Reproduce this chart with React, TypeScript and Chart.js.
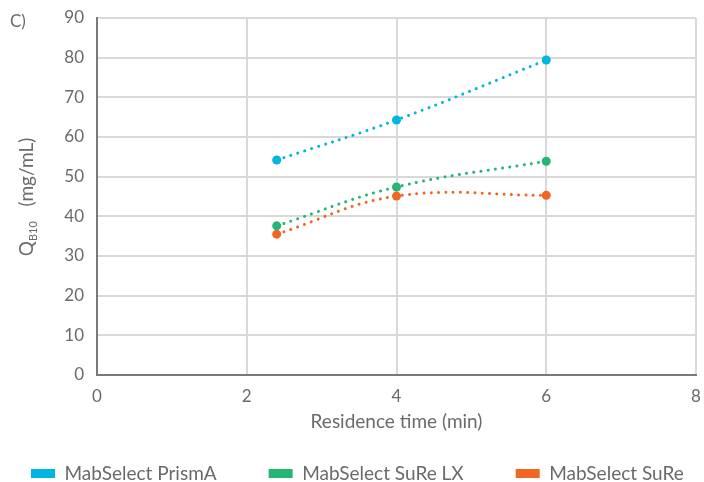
import React, { useEffect, useRef } from "react";
import { Chart, registerables } from "chart.js";

Chart.register(...registerables);

const residenceTimes = [2.4, 4, 6];
const prismA = [54.2, 64.3, 79.4];
const sureLX = [37.6, 47.4, 53.9];
const sure = [35.5, 45.1, 45.3];
const seriesNames = ["MabSelect PrismA", "MabSelect SuRe LX", "MabSelect SuRe"];
const seriesColors = ["#00b5e2", "#25b574", "#f26522"];
const xTitle = "Residence time (min)";
const panelLabel = "C)";

const FONT = "Lato, 'Open Sans', sans-serif";
const TEXT = "#6a6a6a";

const textPlugin = {
  id: "extraText",
  afterLayout(chart: any) {
    const lg = chart.legend;
    if (lg) {
      const pad = lg.options.labels.padding;
      lg.left = 31 - pad;
      lg.top = 464 - pad;
      lg.bottom = 482;
      lg.right = 900;
    }
  },
  afterDraw(chart: any) {
    const ctx = chart.ctx;
    ctx.save();
    ctx.fillStyle = TEXT;
    ctx.textBaseline = "middle";
    ctx.textAlign = "left";
    ctx.font = `17px ${FONT}`;
    ctx.fillText(panelLabel, 10, 22);
    // Y axis title with subscript
    ctx.translate(27, 197);
    ctx.rotate(-Math.PI / 2);
    const big = `19px ${FONT}`;
    const small = `11px ${FONT}`;
    ctx.font = big;
    const wQ = ctx.measureText("Q").width;
    const rest = "   (mg/mL)";
    const wRest = ctx.measureText(rest).width;
    ctx.font = small;
    const wSub = ctx.measureText("B10").width;
    const total = wQ + wSub + wRest;
    let x = -total / 2;
    ctx.font = big;
    ctx.fillText("Q", x, 0);
    x += wQ;
    ctx.font = small;
    ctx.fillText("B10", x, 6);
    x += wSub;
    ctx.font = big;
    ctx.fillText(rest, x, 0);
    ctx.restore();
  },
};

export default function App() {
  const ref = useRef<HTMLCanvasElement>(null);
  useEffect(() => {
    if (!ref.current) return;
    const values = [prismA, sureLX, sure];
    const chart = new Chart(ref.current, {
      type: "line",
      data: {
        datasets: values.map((vals, i) => ({
          label: seriesNames[i],
          data: residenceTimes.map((t, j) => ({ x: t, y: vals[j] })),
          borderColor: seriesColors[i],
          backgroundColor: seriesColors[i],
          borderWidth: 3,
          borderDash: [0.01, 7.3],
          borderCapStyle: "round",
          tension: 0.4,
          pointRadius: 4.5,
          pointBorderWidth: 0,
          pointBackgroundColor: seriesColors[i],
          fill: false,
        })),
      },
      options: {
        responsive: false,
        animation: false,
        devicePixelRatio: 1,
        layout: { padding: { top: 18, right: 8, left: 0, bottom: 0 } },
        scales: {
          x: {
            type: "linear",
            min: 0,
            max: 8,
            ticks: {
              stepSize: 2,
              color: TEXT,
              font: { family: FONT, size: 17 },
              padding: 11,
            },
            grid: { color: "#d9d9d9", lineWidth: 2, drawTicks: false },
            border: { color: "#7a7a7a", width: 2 },
            title: {
              display: true,
              text: xTitle,
              color: TEXT,
              font: { family: FONT, size: 19 },
              padding: { top: 0, bottom: 9 },
            },
            afterFit(scale: any) {
              scale.height = 67;
              scale.paddingLeft = 0;
              scale.paddingRight = 0;
            },
          },
          y: {
            min: 0,
            max: 90,
            ticks: {
              stepSize: 10,
              color: TEXT,
              font: { family: FONT, size: 17 },
              padding: 13,
            },
            grid: { color: "#d9d9d9", lineWidth: 2, drawTicks: false },
            border: { color: "#7a7a7a", width: 2 },
            afterFit(scale: any) {
              scale.width = 97;
              scale.paddingTop = 0;
              scale.paddingBottom = 0;
            },
          },
        },
        plugins: {
          tooltip: { enabled: false },
          legend: {
            position: "bottom",
            align: "start",
            maxHeight: 40,
            labels: {
              boxWidth: 24,
              boxHeight: 9,
              padding: 52,
              color: TEXT,
              font: { family: FONT, size: 19 },
              generateLabels: (c: any) =>
                c.data.datasets.map((d: any, i: number) => ({
                  text: d.label,
                  fillStyle: seriesColors[i],
                  strokeStyle: seriesColors[i],
                  lineWidth: 0,
                  hidden: false,
                  datasetIndex: i,
                  fontColor: TEXT,
                })),
            },
          },
        },
      },
      plugins: [textPlugin],
    } as any);
    return () => chart.destroy();
  }, []);
  return (
    <canvas
      ref={ref}
      width={704}
      height={482}
      style={{ position: "absolute", left: 0, top: 0, display: "block" }}
    />
  );
}
